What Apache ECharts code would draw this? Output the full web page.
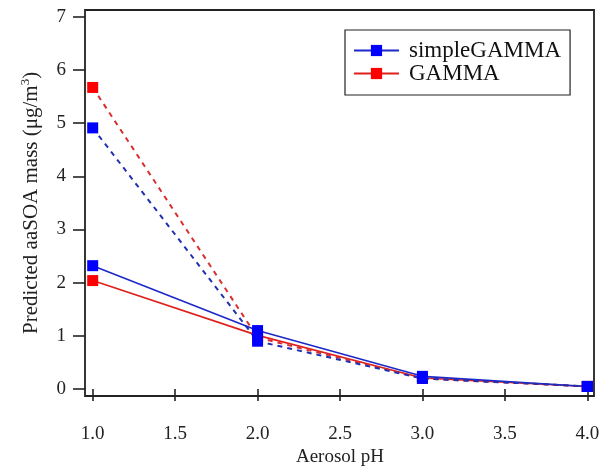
<!DOCTYPE html>
<html>
<head>
<meta charset="utf-8">
<script src="https://cdn.jsdelivr.net/npm/echarts@6/dist/echarts.min.js"></script>
<style>html,body{margin:0;padding:0;background:#fff}#c{width:609px;height:472px}</style>
</head>
<body>
<div id="c"></div>
<script>
const phValues = [1.0, 2.0, 3.0, 4.0];
const simpleGammaSolid = [2.32, 1.10, 0.24, 0.05];
const simpleGammaDashed = [4.91, 0.90, 0.20, 0.05];
const gammaSolid = [2.04, 1.01, 0.21, 0.05];
const gammaDashed = [5.67, 0.97, 0.20, 0.05];
const xTicks = [1.0, 1.5, 2.0, 2.5, 3.0, 3.5, 4.0];
const yTicks = [0, 1, 2, 3, 4, 5, 6, 7];

const FONT = '"Liberation Serif", "Times New Roman", serif';
const AX = '#222';
const pair = (ys) => phValues.map((x, i) => [x, ys[i]]);

const chart = echarts.init(document.getElementById('c'), null, {renderer: 'canvas'});

function mkSeries(name, data, color, lineColor, dashed) {
  return {
    name: name, type: 'line', xAxisIndex: 1, yAxisIndex: 1,
    data: pair(data), symbol: 'rect', symbolSize: 11, showSymbol: true,
    itemStyle: {color: color},
    lineStyle: {color: lineColor, width: dashed ? 2 : 1.6, type: dashed ? [5, 5] : 'solid'},
    emphasis: {disabled: true}, animation: false, z: 3
  };
}

chart.setOption({
  backgroundColor: '#fff',
  animation: false,
  grid: [
    {left: 85, right: 15, top: 10, bottom: 76, show: true, borderColor: AX, borderWidth: 1.8, backgroundColor: 'transparent', z: 1},
    {left: 92.7, right: 21.7, top: 16.7, bottom: 82}
  ],
  legend: {
    data: ['simpleGAMMA', 'GAMMA'],
    orient: 'vertical', left: 345, top: 30,
    borderColor: AX, borderWidth: 1.2,
    padding: [9, 9, 10, 8], itemGap: 0,
    itemWidth: 45, itemHeight: 14,
    textStyle: {fontFamily: FONT, fontSize: 23, color: '#111', padding: [0, 0, 0, 5]},
    backgroundColor: '#fff'
  },
  xAxis: [
    {gridIndex: 0, type: 'value', show: false, min: 0, max: 1},
    {
      gridIndex: 1, type: 'value', min: 1, max: 4, interval: 0.5, offset: 6,
      axisLine: {show: false}, splitLine: {show: false},
      axisTick: {show: true, length: 12, lineStyle: {color: AX, width: 1.6}},
      axisLabel: {margin: 29, fontFamily: FONT, fontSize: 19, color: '#222',
        formatter: v => xTicks.includes(v) ? v.toFixed(1) : ''},
      name: 'Aerosol pH', nameLocation: 'middle', nameGap: 51,
      nameTextStyle: {fontFamily: FONT, fontSize: 19, color: '#222'}
    }
  ],
  yAxis: [
    {gridIndex: 0, type: 'value', show: false, min: 0, max: 1},
    {
      gridIndex: 1, type: 'value', min: 0, max: 7, interval: 1, offset: 7.7,
      axisLine: {show: false}, splitLine: {show: false},
      axisTick: {show: true, length: 12, lineStyle: {color: AX, width: 1.6}},
      axisLabel: {margin: 19, fontFamily: FONT, fontSize: 19, color: '#222',
        formatter: v => yTicks.includes(v) ? String(v) : ''},
      name: 'Predicted aaSOA mass (μg/m{sup|3})', nameLocation: 'middle', nameGap: 41,
      nameTextStyle: {fontFamily: FONT, fontSize: 21, color: '#222',
        rich: {sup: {fontFamily: FONT, fontSize: 13, color: '#222', verticalAlign: 'bottom', padding: [0, 0, 12, 0]}}}
    }
  ],
  series: [
    mkSeries('GAMMA', gammaSolid, '#ff0000', '#e0201c', false),
    mkSeries('GAMMA dashed', gammaDashed, '#ff0000', '#d83030', true),
    mkSeries('simpleGAMMA', simpleGammaSolid, '#0000ff', '#1c28c8', false),
    mkSeries('simpleGAMMA dashed', simpleGammaDashed, '#0000ff', '#2030b0', true)
  ]
});
</script>
</body>
</html>
